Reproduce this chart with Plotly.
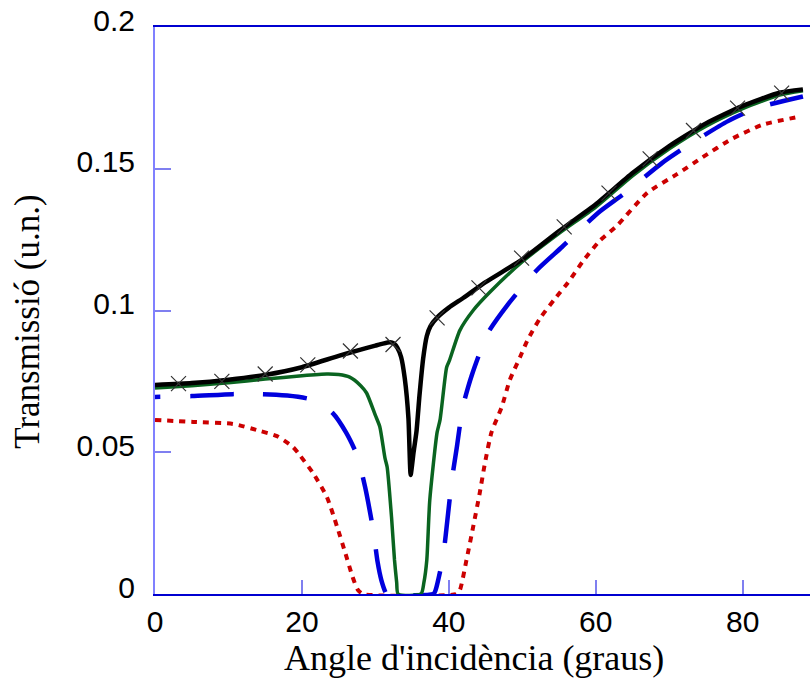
import plotly.graph_objects as go

# Black solid curve (with x markers)
black_x = [0, 5, 10, 15, 20, 25, 28, 30, 31, 32, 32.5, 33, 33.5, 34, 34.5, 34.8,
           35.2, 35.6, 36, 36.5, 37, 37.5, 38.4, 40, 42, 45, 50, 55, 60, 65, 70,
           75, 80, 85, 88.2]
black_y = [0.0737, 0.0744, 0.0756, 0.0773, 0.0800, 0.0840, 0.0862, 0.0876, 0.0883,
           0.0888, 0.0884, 0.0868, 0.0836, 0.0760, 0.0620, 0.0420, 0.0500, 0.0575,
           0.0700, 0.0830, 0.0910, 0.0945, 0.0975, 0.1010, 0.1045, 0.1100, 0.1180,
           0.1280, 0.1375, 0.1485, 0.1580, 0.1660, 0.1722, 0.1768, 0.1780]

marker_x = [3.2, 9.1, 15.0, 20.8, 26.6, 32.4, 38.4, 44.1, 49.9, 55.7, 61.8, 67.4,
            73.3, 79.3, 85.3]
marker_y = [0.0742, 0.0750, 0.0776, 0.0808, 0.0857, 0.0880, 0.0974, 0.1080, 0.1185,
            0.1295, 0.1414, 0.1535, 0.1635, 0.1714, 0.1767]

# Green solid curve
green_x = [0, 5, 10, 15, 20, 23.4, 25, 26.5, 28, 28.8, 30, 30.6, 31.3, 31.6, 32.2,
           32.6, 32.9, 33.1, 36.2, 36.6, 37, 37.4, 38.4, 38.8, 39.7, 40.1, 41.5,
           43.3, 45.6, 50, 55, 60, 65, 70, 75, 80, 85, 88.2]
green_y = [0.0727, 0.0735, 0.0745, 0.0758, 0.0770, 0.0776, 0.0774, 0.0765, 0.0735,
           0.0709, 0.0630, 0.0590, 0.0480, 0.0448, 0.0270, 0.0120, 0.0040, 0.0, 0.0,
           0.0040, 0.0120, 0.0330, 0.0570, 0.0614, 0.0800, 0.0825, 0.0930, 0.1000,
           0.1065, 0.1172, 0.1272, 0.1365, 0.1475, 0.1570, 0.1650, 0.1712, 0.1760,
           0.1775]

# Blue dashed curve
blue_x = [0, 5, 10.6, 14.7, 18, 20.7, 22, 24.2, 26, 27.5, 28.6, 29.7, 30.3, 30.8,
          31.4, 31.6, 37.9, 38.2, 39.2, 39.9, 40.4, 41.1, 41.9, 43.1, 45.3, 48, 52,
          55.4, 60.3, 64, 69, 73, 78, 82, 88.2]
blue_y = [0.0695, 0.0698, 0.0705, 0.0705, 0.0700, 0.0690, 0.0680, 0.0638, 0.0570,
          0.0490, 0.0377, 0.0226, 0.0113, 0.0050, 0.0005, 0.0, 0.0, 0.0014, 0.0130,
          0.0285, 0.0400, 0.0520, 0.0660, 0.0770, 0.0920, 0.1020, 0.1143, 0.1224,
          0.1344, 0.1415, 0.1520, 0.1590, 0.1668, 0.1715, 0.1755]

# Red dotted curve
red_x = [0, 5.2, 10.6, 14.3, 16.6, 18.8, 19.7, 21.5, 23.4, 24.8, 25.9, 26.9, 27.6,
         28.3, 41, 41.5, 42.4, 43.3, 44.2, 44.9, 45.8, 47.2, 48.3, 49.7, 50.7, 52.4,
         54.4, 56.2, 58.2, 60.5, 62.9, 67, 71, 74.5, 78.5, 82.7, 88]
red_y = [0.0614, 0.0607, 0.0600, 0.0575, 0.0557, 0.0518, 0.0490, 0.0427, 0.0342,
         0.0236, 0.0145, 0.0060, 0.0015, 0.0, 0.0, 0.0014, 0.0120, 0.0236, 0.0356,
         0.0460, 0.0570, 0.0660, 0.0755, 0.0836, 0.0895, 0.0972, 0.1040, 0.1098,
         0.1172, 0.1245, 0.1300, 0.1415, 0.1480, 0.1540, 0.1605, 0.1655, 0.1685]

x_ticks = [0, 20, 40, 60, 80]
y_ticks = [0, 0.05, 0.1, 0.15, 0.2]
y_tick_text = ["0", "0.05", "0.1", "0.15", "0.2"]

blue_dash = "5px,30px," + ",".join(["44px,29px"] * 30)

fig = go.Figure()
fig.add_trace(go.Scatter(x=red_x, y=red_y, mode="lines",
                         line=dict(color="#cc0000", width=4, dash="6px,6px",
                                   shape="spline", smoothing=0.6)))
fig.add_trace(go.Scatter(x=blue_x, y=blue_y, mode="lines",
                         line=dict(color="#0000dd", width=4.5, dash=blue_dash,
                                   shape="spline", smoothing=0.6)))
fig.add_trace(go.Scatter(x=green_x, y=green_y, mode="lines",
                         line=dict(color="#0a6420", width=3.5,
                                   shape="spline", smoothing=0.6)))
fig.add_trace(go.Scatter(x=black_x, y=black_y, mode="lines",
                         line=dict(color="#000000", width=4.5,
                                   shape="spline", smoothing=0.5)))
fig.add_trace(go.Scatter(x=marker_x, y=marker_y, mode="markers",
                         marker=dict(symbol="x-thin", size=15,
                                     line=dict(color="#333333", width=1.2))))

fig.update_layout(
    width=810, height=682,
    margin=dict(l=155, r=0, t=27, b=88),
    plot_bgcolor="white", paper_bgcolor="white",
    showlegend=False,
    font=dict(family="Liberation Sans, Arial", size=30, color="black"),
    annotations=[
        dict(text="Angle d'incidència (graus)", xref="paper", yref="paper",
             x=0.487, y=-0.112, xanchor="center", yanchor="middle",
             showarrow=False,
             font=dict(family="Liberation Serif, Times New Roman", size=36)),
        dict(text="Transmissió (u.n.)", xref="paper", yref="paper",
             x=-0.194, y=0.48, xanchor="center", yanchor="middle",
             textangle=-90, showarrow=False,
             font=dict(family="Liberation Serif, Times New Roman", size=35)),
    ],
)
fig.update_xaxes(
    range=[0, 89.16], tickvals=x_ticks, ticktext=[str(v) for v in x_ticks],
    showgrid=False, zeroline=False,
    showline=True, linecolor="#0000d0", linewidth=2, mirror=True,
    ticks="inside", ticklen=14, tickwidth=1.5, tickcolor="#7f7ff0",
    tickfont=dict(family="Liberation Sans, Arial", size=30),
)
fig.update_yaxes(
    range=[0, 0.2], tickvals=y_ticks, ticktext=y_tick_text,
    showgrid=False, zeroline=False,
    showline=True, linecolor="#8080ff", linewidth=2,
    ticks="inside", ticklen=16, tickwidth=1.5, tickcolor="#7f7ff0",
    ticklabelstandoff=12, ticklabelshift=-7,
    tickfont=dict(family="Liberation Sans, Arial", size=30),
)

fig.write_html("out.html")
